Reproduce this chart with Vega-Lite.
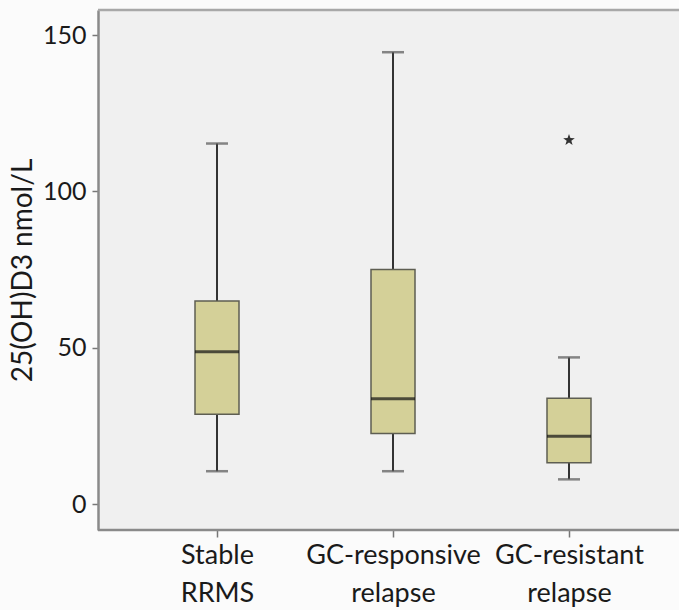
{
  "$schema": "https://vega.github.io/schema/vega-lite/v6.json",
  "autosize": {"type": "none"},
  "padding": {"left": 98, "top": 10, "right": 0, "bottom": 80},
  "width": 581,
  "height": 520,
  "background": "#fbfbfb",
  "config": {
    "view": {"fill": "#f0f0f0", "stroke": null},
    "font": "Lato"
  },
  "datasets": {
    "boxes": [
      {"group": "Stable|RRMS", "lower": 10.5, "q1": 28.7, "median": 48.7, "q3": 64.9, "upper": 115.3},
      {"group": "GC-responsive|relapse", "lower": 10.5, "q1": 22.6, "median": 33.7, "q3": 75.0, "upper": 144.5},
      {"group": "GC-resistant|relapse", "lower": 7.9, "q1": 13.2, "median": 21.7, "q3": 33.8, "upper": 46.9}
    ],
    "outliers": [
      {"group": "GC-resistant|relapse", "value": 116.4}
    ],
    "frame": [
      {"edge": "top", "value": 158},
      {"edge": "bottom", "value": -8.3}
    ]
  },
  "layer": [
    {
      "data": {"name": "frame"},
      "mark": {"type": "rule", "strokeWidth": 2.5},
      "encoding": {
        "y": {
          "field": "value",
          "type": "quantitative",
          "scale": {"domain": [-8.3, 158], "nice": false, "zero": false},
          "axis": {
            "title": "25(OH)D3 nmol/L",
            "values": [0, 50, 100, 150],
            "grid": false,
            "titleFont": "Lato",
            "titleFontSize": 28,
            "titleFontWeight": "normal",
            "titleColor": "#1a1a1a",
            "titlePadding": 5,
            "labelFont": "Lato",
            "labelFontSize": 25,
            "labelColor": "#1a1a1a",
            "labelPadding": 6,
            "domainColor": "#8a8a8a",
            "domainWidth": 2.5,
            "tickColor": "#777777",
            "tickSize": 6,
            "tickWidth": 1.5
          }
        },
        "color": {
          "field": "edge",
          "type": "nominal",
          "scale": {"domain": ["top", "bottom"], "range": ["#a8a8a8", "#8a8a8a"]},
          "legend": null
        }
      }
    },
    {
      "data": {"name": "boxes"},
      "encoding": {
        "x": {
          "field": "group",
          "type": "nominal",
          "sort": null,
          "scale": {"type": "point", "range": [119, 471], "padding": 0},
          "axis": {
            "title": null,
            "labelAngle": 0,
            "labelExpr": "split(datum.label, '|')",
            "labelFont": "Lato",
            "labelFontSize": 27,
            "labelColor": "#1a1a1a",
            "labelLineHeight": 38,
            "labelPadding": 5,
            "domain": false,
            "tickColor": "#777777",
            "tickSize": 7,
            "tickWidth": 1.5,
            "grid": false
          }
        }
      },
      "layer": [
        {
          "mark": {"type": "rule", "color": "#333333", "strokeWidth": 2},
          "encoding": {
            "y": {"field": "lower", "type": "quantitative"},
            "y2": {"field": "upper"}
          }
        },
        {
          "mark": {"type": "tick", "color": "#555555", "thickness": 2.5, "size": 22},
          "encoding": {"y": {"field": "lower", "type": "quantitative"}}
        },
        {
          "mark": {"type": "tick", "color": "#555555", "thickness": 2.5, "size": 22},
          "encoding": {"y": {"field": "upper", "type": "quantitative"}}
        },
        {
          "mark": {"type": "bar", "size": 44, "fill": "#d4d098", "stroke": "#5e5e52", "strokeWidth": 1.5},
          "encoding": {
            "y": {"field": "q1", "type": "quantitative"},
            "y2": {"field": "q3"}
          }
        },
        {
          "mark": {"type": "tick", "color": "#111111", "thickness": 3, "size": 44},
          "encoding": {"y": {"field": "median", "type": "quantitative"}}
        }
      ]
    },
    {
      "data": {"name": "outliers"},
      "mark": {
        "type": "point",
        "filled": true,
        "color": "#333333",
        "opacity": 1,
        "size": 150,
        "shape": "M0,-1L0.235,-0.324L0.951,-0.309L0.38,0.124L0.588,0.809L0,0.4L-0.588,0.809L-0.38,0.124L-0.951,-0.309L-0.235,-0.324Z"
      },
      "encoding": {
        "x": {"field": "group", "type": "nominal", "sort": null},
        "y": {"field": "value", "type": "quantitative"}
      }
    }
  ]
}
